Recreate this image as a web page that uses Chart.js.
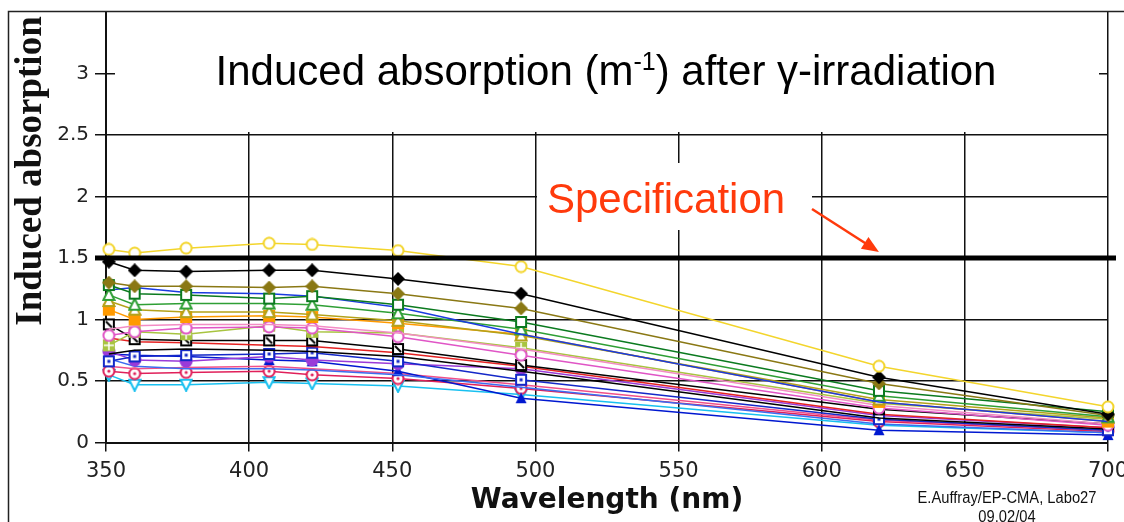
<!DOCTYPE html>
<html>
<head>
<meta charset="utf-8">
<script src="https://cdn.jsdelivr.net/npm/chart.js@4.4.0/dist/chart.umd.min.js"></script>
<style>
  html, body { margin: 0; padding: 0; background: #fff; }
  canvas { display: block; }
</style>
</head>
<body>
<canvas id="absChart" width="1124" height="522"></canvas>
<script>
// --- DADOS ---
const wavelengths = [351, 360, 378, 407, 422, 452, 495, 620, 700];
const xTickValues = [350, 400, 450, 500, 550, 600, 650, 700];
const yTickValues = [0, 0.5, 1, 1.5, 2, 2.5, 3, 3.5];
const specLevel = 1.5;

const yellowCircle     = [1.57, 1.54, 1.58, 1.62, 1.61, 1.56, 1.43, 0.62, 0.29];
const blackDiamond     = [1.47, 1.40, 1.39, 1.40, 1.40, 1.33, 1.21, 0.53, 0.23];
const oliveDiamond     = [1.30, 1.27, 1.27, 1.26, 1.27, 1.21, 1.09, 0.48, 0.22];
const greenSquare      = [1.28, 1.21, 1.20, 1.17, 1.19, 1.12, 0.98, 0.42, 0.25];
const blueSquare       = [1.24, 1.26, 1.22, 1.21, 1.19, 1.10, 0.88, 0.33, 0.17];
const greenTriangle    = [1.20, 1.12, 1.13, 1.13, 1.12, 1.05, 0.92, 0.38, 0.21];
const khakiTriangle    = [1.15, 1.08, 1.06, 1.06, 1.04, 0.99, 0.87, 0.35, 0.20];
const orangeSquare     = [1.08, 1.00, 1.02, 1.03, 1.02, 0.97, 0.88, 0.33, 0.17];
const lightPinkLine    = [0.92, 0.95, 0.96, 0.96, 0.95, 0.89, 0.76, 0.30, 0.15];
const pinkCircle       = [0.87, 0.90, 0.93, 0.94, 0.93, 0.86, 0.71, 0.28, 0.14];
const limeGridSquare   = [0.79, 0.90, 0.88, 0.95, 0.90, 0.89, 0.77, 0.32, 0.19];
const blackSlashSquare = [0.96, 0.84, 0.83, 0.83, 0.83, 0.76, 0.63, 0.27, 0.15];
const redLine          = [0.85, 0.82, 0.81, 0.79, 0.78, 0.73, 0.62, 0.23, 0.12];
const blackLine        = [0.72, 0.75, 0.76, 0.75, 0.74, 0.70, 0.58, 0.20, 0.11];
const blueDotSquare    = [0.66, 0.70, 0.71, 0.72, 0.73, 0.66, 0.51, 0.19, 0.10];
const purpleDot        = [0.74, 0.67, 0.66, 0.70, 0.67, 0.64, 0.60, 0.22, 0.12];
const royalBlueLine    = [0.68, 0.62, 0.60, 0.60, 0.59, 0.55, 0.45, 0.15, 0.08];
const navyTriangle     = [0.72, 0.71, 0.70, 0.67, 0.66, 0.58, 0.36, 0.10, 0.06];
const hotPinkLine      = [0.62, 0.60, 0.61, 0.62, 0.60, 0.56, 0.47, 0.18, 0.10];
const crimsonRing      = [0.58, 0.56, 0.57, 0.58, 0.55, 0.52, 0.44, 0.17, 0.09];
const cyanTriangle     = [0.55, 0.47, 0.47, 0.49, 0.48, 0.46, 0.39, 0.14, 0.08];

// --- MARCADORES (desenhados num canvas pequeno) ---
function makeMarker(kind, color) {
    const s = 14, h = s / 2;
    const c = document.createElement('canvas');
    c.width = s; c.height = s;
    const g = c.getContext('2d');
    g.lineWidth = 2;
    g.strokeStyle = color;
    g.fillStyle = color;
    const openBox = () => {
        g.fillStyle = '#fff';
        g.fillRect(2, 2, s - 4, s - 4);
        g.strokeRect(2, 2, s - 4, s - 4);
        g.fillStyle = color;
    };
    const tri = (down) => {
        g.beginPath();
        if (down) { g.moveTo(1.5, 2); g.lineTo(s - 1.5, 2); g.lineTo(h, s - 1); }
        else { g.moveTo(h, 1); g.lineTo(s - 1.5, s - 2); g.lineTo(1.5, s - 2); }
        g.closePath();
    };
    switch (kind) {
        case 'diamond':
            g.beginPath(); g.moveTo(h, 0); g.lineTo(s, h); g.lineTo(h, s); g.lineTo(0, h); g.closePath(); g.fill();
            break;
        case 'square':
            openBox();
            break;
        case 'squareFill':
            g.fillRect(1, 1, s - 2, s - 2);
            break;
        case 'squareDot':
            openBox(); g.fillRect(h - 1.5, h - 1.5, 3, 3);
            break;
        case 'squareSlash':
            openBox(); g.beginPath(); g.moveTo(4, 4); g.lineTo(s - 4, s - 4); g.stroke();
            break;
        case 'squareGrid':
            g.fillRect(1, 1, s - 2, s - 2);
            g.strokeStyle = '#fff'; g.lineWidth = 1.5;
            g.beginPath(); g.moveTo(h, 2); g.lineTo(h, s - 2); g.moveTo(2, h); g.lineTo(s - 2, h); g.stroke();
            break;
        case 'circle':
        case 'circleDot':
            g.beginPath(); g.arc(h, h, h - 1.5, 0, Math.PI * 2);
            g.fillStyle = '#fff'; g.fill(); g.stroke();
            if (kind === 'circleDot') { g.fillStyle = color; g.beginPath(); g.arc(h, h, 1.6, 0, Math.PI * 2); g.fill(); }
            break;
        case 'circleFill':
            g.beginPath(); g.arc(h, h, h - 0.5, 0, Math.PI * 2); g.fill();
            break;
        case 'triangle':
        case 'triangleDown':
            tri(kind === 'triangleDown'); g.fillStyle = '#fff'; g.fill(); g.stroke();
            break;
        case 'triangleFill':
            tri(false); g.fill();
            break;
    }
    return c;
}

const series = [
    { values: yellowCircle,     color: '#f3d52c', mark: 'circle' },
    { values: blackDiamond,     color: '#000000', mark: 'diamond' },
    { values: oliveDiamond,     color: '#8a7814', mark: 'diamond' },
    { values: greenSquare,      color: '#0b7a1f', mark: 'square' },
    { values: blueSquare,       color: '#1a3be0', mark: null },
    { values: greenTriangle,    color: '#2f9f35', mark: 'triangle' },
    { values: khakiTriangle,    color: '#b4a21a', mark: 'triangle' },
    { values: orangeSquare,     color: '#ff9a00', mark: 'squareFill' },
    { values: lightPinkLine,    color: '#f38cc4', mark: null },
    { values: pinkCircle,       color: '#e055c6', mark: 'circle' },
    { values: limeGridSquare,   color: '#a8c440', mark: 'squareGrid' },
    { values: blackSlashSquare, color: '#000000', mark: 'squareSlash' },
    { values: redLine,          color: '#e52222', mark: null },
    { values: blackLine,        color: '#000000', mark: null },
    { values: blueDotSquare,    color: '#1428c8', mark: 'squareDot' },
    { values: purpleDot,        color: '#9a3ad8', mark: 'circleFill' },
    { values: royalBlueLine,    color: '#3c6cf0', mark: null },
    { values: navyTriangle,     color: '#0018d0', mark: 'triangleFill' },
    { values: hotPinkLine,      color: '#f0508a', mark: null },
    { values: crimsonRing,      color: '#e0205a', mark: 'circleDot' },
    { values: cyanTriangle,     color: '#18c0f0', mark: 'triangleDown' }
];

const datasets = series.map(s => ({
    data: wavelengths.map((w, i) => ({ x: w, y: s.values[i] })),
    borderColor: s.color,
    borderWidth: 1.5,
    backgroundColor: s.color,
    pointStyle: s.mark ? makeMarker(s.mark, s.color) : 'circle',
    pointRadius: s.mark ? 6 : 0,
    tension: 0,
    clip: false
}));

// --- TEXTOS E ENFEITES ---
const decorPlugin = {
    id: 'decor',
    beforeDatasetsDraw(chart) {
        const ctx = chart.ctx;
        const x = chart.scales.x, y = chart.scales.y;
        ctx.save();
        // caixa branca do título (esconde a grelha de cima)
        ctx.fillStyle = '#fff';
        ctx.fillRect(x.left + 9, 11, x.right - x.left - 18, y.getPixelForValue(2.5) - 14);
        // caixa do texto "Specification"
        ctx.fillRect(537, 163, 275, 67);

        // título
        ctx.fillStyle = '#000';
        ctx.textBaseline = 'alphabetic';
        const big = '42px "Liberation Sans", Arial, sans-serif';
        const small = '25px "Liberation Sans", Arial, sans-serif';
        const parts = [['Induced absorption (m', big, 0], ['-1', small, -15], [') after γ-irradiation', big, 0]];
        let total = 0;
        parts.forEach(p => { ctx.font = p[1]; total += ctx.measureText(p[0]).width; });
        let tx = 606 - total / 2;
        parts.forEach(p => {
            ctx.font = p[1];
            ctx.fillText(p[0], tx, 85 + p[2]);
            tx += ctx.measureText(p[0]).width;
        });

        // "Specification" e a seta
        const red = '#ff3a0c';
        ctx.fillStyle = red;
        ctx.font = '42px "Liberation Sans", Arial, sans-serif';
        ctx.fillText('Specification', 547, 213);
        const tipX = x.getPixelForValue(620), tipY = y.getPixelForValue(specLevel) - 6;
        const sx = 812, sy = 209;
        const ang = Math.atan2(tipY - sy, tipX - sx);
        ctx.strokeStyle = red;
        ctx.lineWidth = 2.5;
        ctx.beginPath();
        ctx.moveTo(sx, sy);
        ctx.lineTo(tipX - 12 * Math.cos(ang), tipY - 12 * Math.sin(ang));
        ctx.stroke();
        ctx.beginPath();
        ctx.moveTo(tipX, tipY);
        ctx.lineTo(tipX - 17 * Math.cos(ang) + 7 * Math.sin(ang), tipY - 17 * Math.sin(ang) - 7 * Math.cos(ang));
        ctx.lineTo(tipX - 17 * Math.cos(ang) - 7 * Math.sin(ang), tipY - 17 * Math.sin(ang) + 7 * Math.cos(ang));
        ctx.closePath();
        ctx.fill();
        ctx.restore();
    },
    afterDatasetsDraw(chart) {
        // linha da especificação (por cima das curvas)
        const ctx = chart.ctx;
        const a = chart.chartArea;
        const yy = chart.scales.y.getPixelForValue(specLevel);
        ctx.save();
        ctx.strokeStyle = '#000';
        ctx.lineWidth = 5;
        ctx.beginPath();
        ctx.moveTo(a.left - 11, yy);
        ctx.lineTo(a.right + 8, yy);
        ctx.stroke();
        ctx.restore();
    },
    afterDraw(chart) {
        const ctx = chart.ctx;
        ctx.save();
        // moldura
        ctx.strokeStyle = '#222';
        ctx.lineWidth = 1.5;
        ctx.beginPath();
        ctx.moveTo(8.5, 522);
        ctx.lineTo(8.5, 11.5);
        ctx.lineTo(1124, 11.5);
        ctx.stroke();

        // título do eixo y
        ctx.fillStyle = '#111';
        ctx.font = 'bold 37px "Liberation Serif", "Times New Roman", serif';
        ctx.textAlign = 'center';
        ctx.textBaseline = 'middle';
        ctx.translate(31, 171);
        ctx.rotate(-Math.PI / 2);
        ctx.fillText('Induced absorption', 0, 0);
        ctx.setTransform(1, 0, 0, 1, 0, 0);

        // autor / data
        ctx.font = '16px "Liberation Sans", Arial, sans-serif';
        ctx.textBaseline = 'alphabetic';
        ctx.translate(1007, 0);
        ctx.scale(0.92, 1);
        ctx.fillText('E.Auffray/EP-CMA, Labo27', 0, 503);
        ctx.fillText('09.02/04', 0, 522);
        ctx.restore();
    }
};

new Chart(document.getElementById('absChart'), {
    type: 'line',
    data: { datasets },
    plugins: [decorPlugin],
    options: {
        responsive: false,
        devicePixelRatio: 1,
        animation: false,
        events: [],
        layout: { padding: { top: 12, right: 16, left: 0, bottom: 0 } },
        plugins: { legend: { display: false }, tooltip: { enabled: false } },
        scales: {
            x: {
                type: 'linear',
                min: 350,
                max: 700,
                afterBuildTicks: s => { s.ticks = xTickValues.map(v => ({ value: v })); },
                afterFit: s => { s.height = 79.5; s.paddingLeft = 0; s.paddingRight = 0; },
                grid: { color: '#111', lineWidth: 1.5, tickLength: 9 },
                border: { color: '#111', width: 2 },
                ticks: {
                    color: '#222',
                    padding: 7,
                    maxRotation: 0,
                    font: { family: '"DejaVu Sans", sans-serif', size: 21 }
                },
                title: {
                    display: true,
                    text: 'Wavelength (nm)',
                    color: '#111',
                    padding: { top: 0, bottom: 4 },
                    font: { family: '"DejaVu Sans", sans-serif', size: 28, weight: 'bold' }
                }
            },
            y: {
                min: 0,
                max: 3.5,
                afterBuildTicks: s => { s.ticks = yTickValues.map(v => ({ value: v })); },
                afterFit: s => { s.width = 106; s.paddingTop = 0; s.paddingBottom = 0; },
                grid: {
                    color: c => (c.tick && c.tick.value === 3.5) ? 'rgba(0,0,0,0)' : '#111',
                    lineWidth: 1.5,
                    tickLength: 11
                },
                border: { color: '#111', width: 2 },
                ticks: {
                    color: '#222',
                    padding: 6,
                    font: { family: '"DejaVu Sans", sans-serif', size: 20 },
                    callback: v => v === 3.5 ? '' : String(v)
                }
            }
        }
    }
});
</script>
</body>
</html>
